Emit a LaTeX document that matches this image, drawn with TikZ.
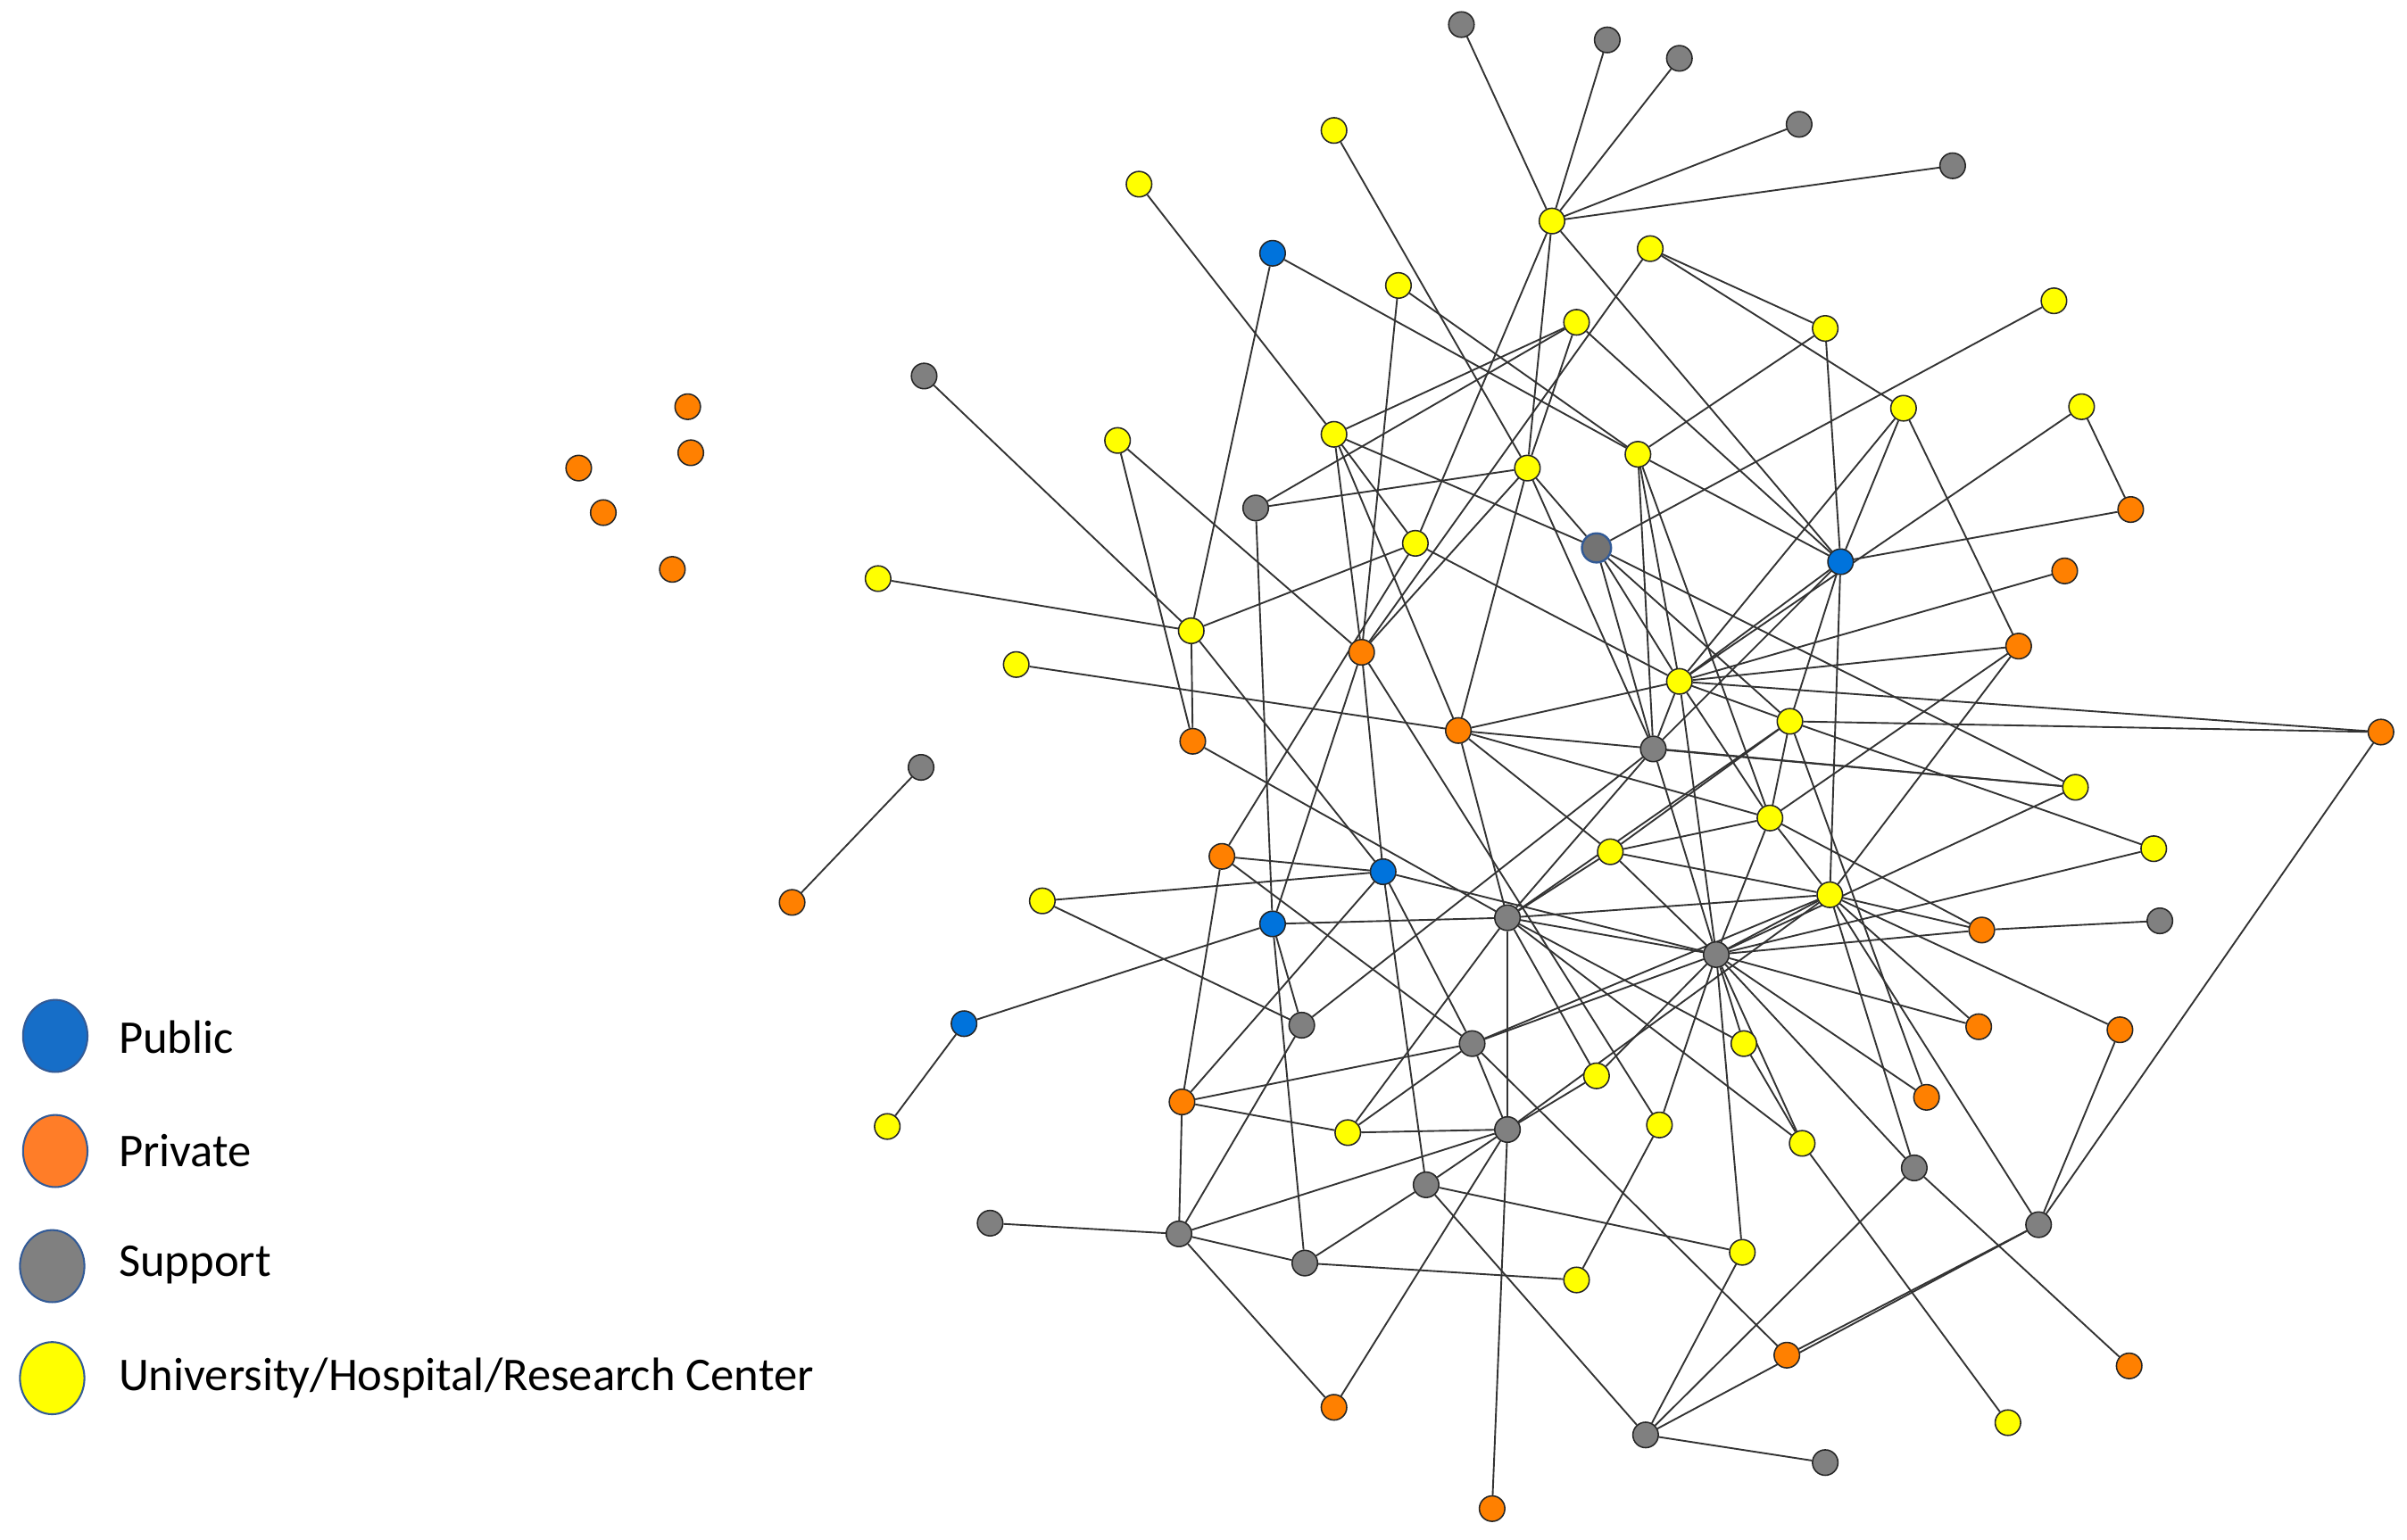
\documentclass[tikz,border=0pt]{standalone}
\usepackage{fontspec}
\setmainfont{Carlito}
\usetikzlibrary{backgrounds,shapes.geometric}
\definecolor{cyel}{RGB}{255,255,0}
\definecolor{corg}{RGB}{255,128,0}
\definecolor{cgry}{RGB}{128,128,128}
\definecolor{cblu}{RGB}{0,115,220}
\definecolor{lblu}{RGB}{22,110,200}
\definecolor{lorg}{RGB}{255,125,40}
\definecolor{lbord}{RGB}{50,90,150}
\tikzset{
  nd/.style={circle,draw=black!85,line width=0.45pt,minimum size=8.3pt,inner sep=0pt},
  yel/.style={nd,fill=cyel},
  org/.style={nd,fill=corg},
  gry/.style={nd,fill=cgry},
  blu/.style={nd,fill=cblu},
  edge/.style={draw=black!80,line width=0.55pt},
  leg/.style={ellipse,draw=lbord,line width=0.6pt,minimum width=21pt,minimum height=23.5pt,inner sep=0pt},
  legtxt/.style={anchor=west,font=\fontsize{15.3}{18}\selectfont,inner sep=0pt}
}
\begin{document}
\begin{tikzpicture}[x=0.5pt,y=-0.5pt]
\useasboundingbox (0,0) rectangle (1568,1003);
% gray
\node[gry] (G1) at (952,16) {};
\node[gry] (G2) at (1047,26) {};
\node[gry] (G3) at (1094,38) {};
\node[gry] (G4) at (1172,81) {};
\node[gry] (G5) at (1272,108) {};
\node[gry] (G6) at (602,245) {};
\node[gry] (G7) at (818,331) {};
\node[gry,draw=lbord,line width=0.7pt,minimum size=9.5pt,fill=gray!110] (G8) at (1040,357) {};
\node[gry] (G9) at (1077,488) {};
\node[gry] (G10) at (600,500) {};
\node[gry] (G11) at (982,598) {};
\node[gry] (G12) at (1118,622) {};
\node[gry] (G13) at (1407,600) {};
\node[gry] (G14) at (848,668) {};
\node[gry] (G15) at (959,680) {};
\node[gry] (G16) at (982,736) {};
\node[gry] (G17) at (929,772) {};
\node[gry] (G18) at (1247,761) {};
\node[gry] (G19) at (645,797) {};
\node[gry] (G20) at (768,804) {};
\node[gry] (G21) at (850,823) {};
\node[gry] (G22) at (1328,798) {};
\node[gry] (G23) at (1072,935) {};
\node[gry] (G24) at (1189,953) {};
% yellow
\node[yel] (Y1) at (869,85) {};
\node[yel] (Y2) at (742,120) {};
\node[yel] (Y3) at (1011,144) {};
\node[yel] (Y4) at (1075,162) {};
\node[yel] (Y5) at (911,186) {};
\node[yel] (Y6) at (1027,210) {};
\node[yel] (Y7) at (1189,214) {};
\node[yel] (Y8) at (1338,196) {};
\node[yel] (Y9) at (1240,266) {};
\node[yel] (Y10) at (1356,265) {};
\node[yel] (Y11) at (728,287) {};
\node[yel] (Y12) at (869,283) {};
\node[yel] (Y13) at (995,305) {};
\node[yel] (Y14) at (1067,296) {};
\node[yel] (Y15) at (922,354) {};
\node[yel] (Y16) at (572,377) {};
\node[yel] (Y17) at (776,411) {};
\node[yel] (Y18) at (662,433) {};
\node[yel] (Y19) at (1094,444) {};
\node[yel] (Y20) at (1166,470) {};
\node[yel] (Y21) at (1352,513) {};
\node[yel] (Y22) at (1153,533) {};
\node[yel] (Y23) at (1049,555) {};
\node[yel] (Y24) at (1403,553) {};
\node[yel] (Y25) at (1192,583) {};
\node[yel] (Y26) at (679,587) {};
\node[yel] (Y27) at (1136,680) {};
\node[yel] (Y28) at (1040,701) {};
\node[yel] (Y29) at (878,738) {};
\node[yel] (Y30) at (1081,733) {};
\node[yel] (Y31) at (1174,745) {};
\node[yel] (Y32) at (578,734) {};
\node[yel] (Y33) at (1135,816) {};
\node[yel] (Y34) at (1027,834) {};
\node[yel] (Y35) at (1308,927) {};
% blue
\node[blu] (B1) at (829,165) {};
\node[blu] (B2) at (1199,366) {};
\node[blu] (B3) at (901,568) {};
\node[blu] (B4) at (829,602) {};
\node[blu] (B5) at (628,667) {};
% orange
\node[org] (O1) at (448,265) {};
\node[org] (O2) at (450,295) {};
\node[org] (O3) at (377,305) {};
\node[org] (O4) at (393,334) {};
\node[org] (O5) at (438,371) {};
\node[org] (O6) at (887,425) {};
\node[org] (O7) at (950,476) {};
\node[org] (O8) at (777,483) {};
\node[org] (O9) at (1388,332) {};
\node[org] (O10) at (1345,372) {};
\node[org] (O11) at (1315,421) {};
\node[org] (O12) at (1551,477) {};
\node[org] (O13) at (516,588) {};
\node[org] (O14) at (796,558) {};
\node[org] (O15) at (1291,606) {};
\node[org] (O16) at (1289,669) {};
\node[org] (O17) at (1381,671) {};
\node[org] (O18) at (1255,715) {};
\node[org] (O19) at (770,718) {};
\node[org] (O20) at (1164,883) {};
\node[org] (O21) at (1387,890) {};
\node[org] (O22) at (869,917) {};
\node[org] (O23) at (972,983) {};
\begin{pgfonlayer}{background}
\foreach \a/\b in {Y3/G1,Y3/G2,Y3/G3,Y3/G4,Y3/G5,Y3/Y13,Y3/Y15,Y3/B2,Y1/Y13,Y2/Y12,
 B1/Y17,B1/Y14,Y14/B2,Y5/O6,Y5/Y14,Y4/Y7,Y4/Y9,Y4/O6,Y6/G7,Y6/B2,Y6/Y12,Y6/Y13,G7/Y13,G7/B4,Y7/Y14,Y7/B2,
 Y8/G8,Y9/B2,Y9/Y19,Y9/O11,Y10/O9,Y10/Y19,O9/B2,O10/Y19,O11/Y19,O11/Y22,O11/Y25,
 O12/Y20,O12/Y19,O12/G22,Y21/G9,Y21/G8,Y21/G12,Y21/O7,Y24/Y20,Y24/G12,G13/O15,
 O15/Y22,O15/Y25,O15/G12,O16/G12,O16/Y25,O17/Y25,O17/G22,G22/Y25,G22/G23,
 G18/Y25,G18/G23,G18/O21,G18/G12,O18/G12,O18/Y20,Y35/Y31,G6/Y17,Y11/O6,Y11/O8,
 Y17/O8,Y16/Y17,Y17/Y15,Y17/B3,Y18/O7,G10/O13,O14/Y15,O14/B3,O14/G15,O14/O19,
 Y26/B3,Y26/G14,B4/B5,B4/G11,B4/G14,B4/O6,B4/G21,B3/O6,B3/O19,B3/G15,O19/G15,
 O19/Y29,O19/G20,B5/Y32,G14/G20,G14/G9,G19/G20,G20/G16,G20/G21,G20/O22,G21/Y34,O22/G16,
 Y29/G15,Y29/G11,O8/G11,G15/G16,G15/G12,G15/Y25,G16/G11,G16/Y28,G16/G17,G16/O23,G16/Y25,
 G17/G21,G17/Y33,Y28/G12,Y28/G11,Y30/G12,Y30/Y34,Y30/O6,Y12/Y15,Y12/O6,Y12/G8,Y12/O7,
 Y13/O7,Y13/O6,Y13/G8,Y13/G9,O7/Y19,O7/Y22,O7/G11,O7/Y23,G8/G9,G8/Y19,G8/Y20,
 G9/G12,G9/G11,G9/B2,G9/Y14,Y19/Y14,Y19/Y15,Y19/B2,Y19/Y20,Y19/Y22,Y19/G12,Y19/G9,
 Y20/B2,Y20/Y22,Y20/G11,Y20/Y23,Y22/Y25,Y22/G12,Y22/Y23,Y23/Y25,Y23/G11,Y23/G12,
 Y25/B2,Y25/G11,Y25/G12,G11/G12,G23/G17,G23/Y33,G23/G24,O20/G15,O20/G22,Y33/G12,
 Y27/G12,Y27/G11,Y27/Y31,Y31/G12,Y31/G11,B3/G12,B3/G17,Y14/Y22,Y29/G16}
 \draw[edge] (\a) -- (\b);
\end{pgfonlayer}
% legend
\node[leg,fill=lblu] (L1) at (36,675) {};
\node[leg,fill=lorg] (L2) at (36,750) {};
\node[leg,fill=cgry] (L3) at (34,825) {};
\node[leg,fill=cyel] (L4) at (34,898) {};
\node[legtxt] (T1) at (77,676) {Public};
\node[legtxt] (T2) at (77,750) {Private};
\node[legtxt] (T3) at (77,824) {Support};
\node[legtxt] (T4) at (77,898) {University/Hospital/Research Center};
\end{tikzpicture}
\end{document}
